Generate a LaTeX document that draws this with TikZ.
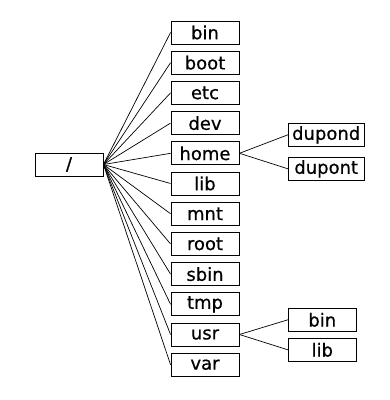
\documentclass[tikz,border=0pt]{standalone}
\usepackage{fontspec}
\setmainfont{DejaVu Sans}[FakeBold=0.6]
\begin{document}
\begin{tikzpicture}[x=1pt,y=-1pt,
  box/.style={draw,line width=0.9pt,minimum width=68pt,minimum height=23pt,inner sep=0pt,font=\fontsize{18}{18}\selectfont},
  wbox/.style={box,minimum width=75.7pt},
  link/.style={line width=0.7pt}]
\useasboundingbox (0,0) rectangle (390,400);
\node[box] (root) at (69,164.5) {/};
\foreach \n [count=\i from 0] in {bin,boot,etc,dev,home,lib,mnt,root,sbin,tmp,usr,var} {
  \node[box] (c\i) at (205,32.5+30.2*\i) {\n};
  \draw[link] (root.east) -- (c\i.west);
}
\node[wbox] (dupond) at (326.2,134.8) {dupond};
\node[wbox] (dupont) at (326.2,168.8) {dupont};
\node[box] (ubin) at (322.3,319.8) {bin};
\node[box] (ulib) at (322.3,349.8) {lib};
\draw[link] (c4.east) -- (dupond.west);
\draw[link] (c4.east) -- (dupont.west);
\draw[link] (c10.east) -- (ubin.west);
\draw[link] (c10.east) -- (ulib.west);
\end{tikzpicture}
\end{document}
